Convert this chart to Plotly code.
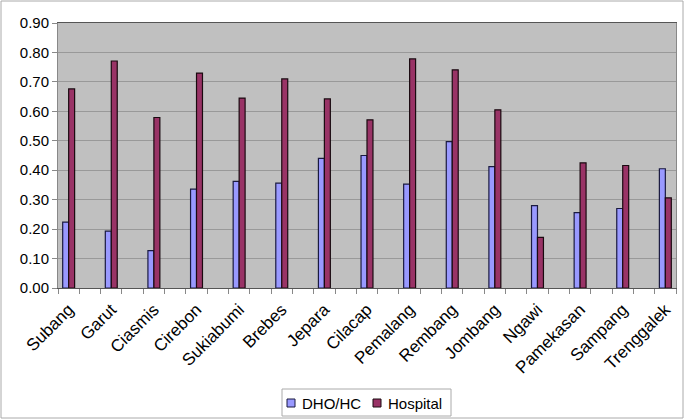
import plotly.graph_objects as go

categories = ["Subang", "Garut", "Ciasmis", "Cirebon", "Sukiabumi", "Brebes", "Jepara",
              "Cilacap", "Pemalang", "Rembang", "Jombang", "Ngawi", "Pamekasan",
              "Sampang", "Trenggalek"]
dho_hc = [0.224, 0.193, 0.127, 0.336, 0.362, 0.356, 0.440, 0.450, 0.353, 0.497,
          0.412, 0.280, 0.256, 0.270, 0.405]
hospital = [0.676, 0.771, 0.579, 0.730, 0.645, 0.710, 0.642, 0.571, 0.778, 0.741,
            0.605, 0.172, 0.425, 0.416, 0.306]
y_ticks = [0.0, 0.1, 0.2, 0.3, 0.4, 0.5, 0.6, 0.7, 0.8, 0.9]
series_names = ["DHO/HC", "Hospital"]
series_colors = ["#9999FF", "#993366"]
outline_colors = ["#1a1a40", "#1a0a10"]

# Each category is followed by an empty slot (as in the original chart)
xpos = [2 * i for i in range(len(categories))]

fig = go.Figure()
for name, vals, col, ocol in zip(series_names, [dho_hc, hospital], series_colors, outline_colors):
    fig.add_trace(go.Bar(x=xpos, y=vals, name=name, showlegend=False,
                         marker=dict(color=col, line=dict(color=ocol, width=1.2))))

W, H = 685, 420
ml, mr, mt, mb = 58, 9, 23, 132
pw, ph = W - ml - mr, H - mt - mb


def px(x):
    return (x - ml) / pw


def py(y):
    return (H - mb - y) / ph


shapes = [
    # outer chart border
    dict(type="rect", xref="paper", yref="paper",
         x0=px(1), x1=px(683), y0=py(418), y1=py(1),
         line=dict(color="#AAAAAA", width=1), fillcolor="rgba(0,0,0,0)", layer="below"),
    # legend box
    dict(type="rect", xref="paper", yref="paper",
         x0=px(282), x1=px(451), y0=py(416), y1=py(389),
         line=dict(color="#AAAAAA", width=1), fillcolor="white"),
]
annotations = []
leg_sym_x = [287, 373]
leg_txt_x = [300, 386]
for name, col, ocol, sx, tx in zip(series_names, series_colors, outline_colors, leg_sym_x, leg_txt_x):
    shapes.append(dict(type="rect", xref="paper", yref="paper",
                       x0=px(sx), x1=px(sx + 8), y0=py(407), y1=py(399),
                       line=dict(color=ocol, width=1), fillcolor=col))
    annotations.append(dict(text=name, xref="paper", yref="paper", x=px(tx), y=py(403),
                            xanchor="left", yanchor="middle", showarrow=False,
                            font=dict(size=15, color="black")))

fig.update_layout(
    width=W, height=H,
    margin=dict(l=ml, r=mr, t=mt, b=mb, autoexpand=False),
    paper_bgcolor="white", plot_bgcolor="#C0C0C0",
    barmode="group", bargap=0.72, bargroupgap=0,
    font=dict(family="Liberation Sans, Arial, sans-serif", size=15, color="black"),
    showlegend=False,
    shapes=shapes, annotations=annotations,
)
fig.update_xaxes(
    range=[-0.5, 2 * len(categories) - 1.5],
    tickmode="array", tickvals=xpos, ticktext=categories,
    tickangle=-45, ticks="", showgrid=False, automargin=False,
    showline=True, linecolor="#555555", linewidth=1, mirror=True,
    tickfont=dict(size=17), ticklabelstandoff=4,
    minor=dict(ticks="outside", tick0=-0.5, dtick=1, ticklen=5,
               tickcolor="#888888", showgrid=False),
    zeroline=False,
)
fig.update_yaxes(
    range=[0, 0.9], tickmode="array", tickvals=y_ticks, automargin=False,
    tickformat=".2f", ticks="outside", ticklen=5, tickcolor="#888888",
    showgrid=True, gridcolor="#999999", gridwidth=1,
    showline=True, linecolor="#888888", linewidth=1, mirror=True,
    zeroline=False, tickfont=dict(size=15),
)

fig.write_html("out.html", config={"displayModeBar": False},
               post_script="document.body.style.margin='0px';document.body.style.overflow='hidden';")
